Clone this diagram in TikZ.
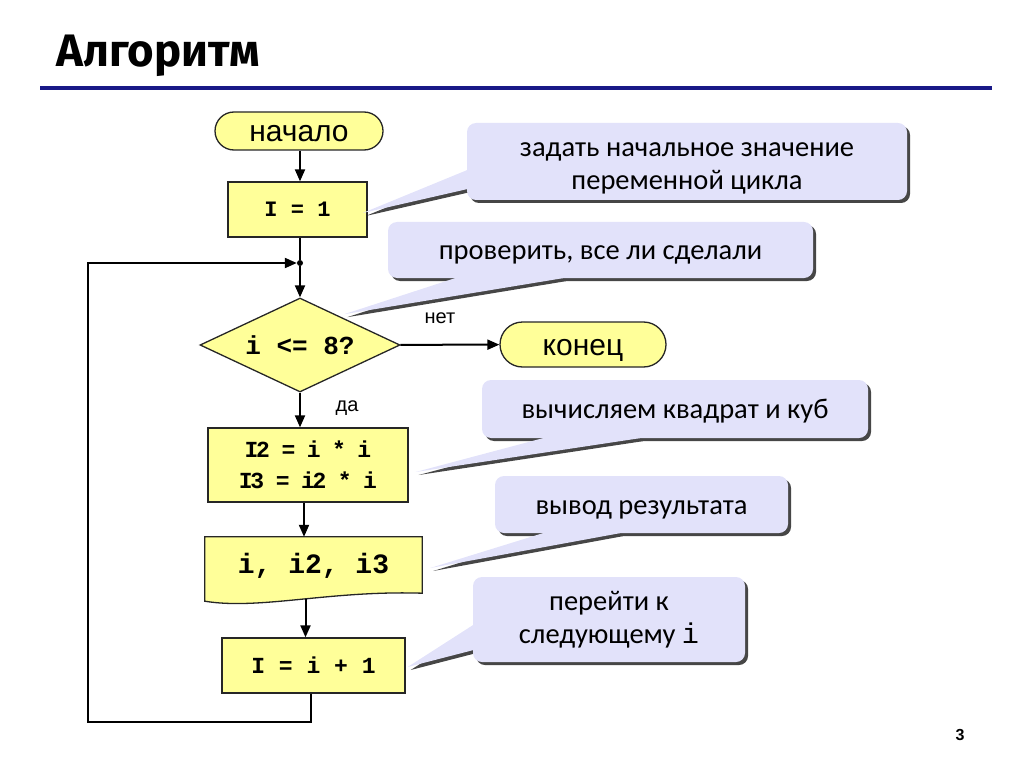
\documentclass[tikz,border=0pt]{standalone}
\usepackage{fontspec}
\setmainfont{Liberation Sans}
\newfontfamily\notefont{Carlito}
\newfontfamily\codefont{Liberation Mono}
\newfontfamily\tightcode[LetterSpace=-10]{Liberation Mono}
\newfontfamily\titlefont{Fira Sans}
\usetikzlibrary{shapes.geometric,shapes.misc,arrows.meta,calc,shadows,backgrounds}

\definecolor{blockfill}{RGB}{255,255,153}
\definecolor{notefill}{RGB}{226,226,250}
\definecolor{rulecol}{RGB}{25,25,135}
\definecolor{shadowcol}{RGB}{70,70,70}

\tikzset{
    block/.style={draw=black!85, line width=1.3pt, fill=blockfill, inner sep=0pt},
    term/.style={block, rounded rectangle, text height=21pt, text depth=0pt, font=\fontsize{30}{36}\selectfont},
    note/.style={fill=notefill, rounded corners=9pt, inner sep=0pt, align=center,
        text height=19.5pt, text depth=0pt,
        font=\notefont\fontsize{28.5}{33}\selectfont,
        drop shadow={shadow xshift=3pt, shadow yshift=-3pt, fill=shadowcol, opacity=1}},
    flow/.style={line width=2pt},
    arr/.style={flow, -{Triangle[length=12pt,width=10pt]}},
}

\begin{document}
\begin{tikzpicture}[x=1pt, y=1pt]
    \useasboundingbox (0,0) rectangle (1024,-767);
    \node[anchor=base west, font=\titlefont\bfseries\fontsize{45.5}{50}\selectfont] (title) at (53,-67) {Алгоритм};
    \draw[rulecol, line width=4pt] (40,-88) -- (992,-88);

    \node[term, minimum width=168pt, minimum height=38pt] (start) at (299,-131) {начало};
    \node[block, minimum width=139pt, minimum height=55pt, font=\codefont\bfseries\fontsize{22}{26}\selectfont] (init) at (297.5,-209.5) {I = 1};
    \node[circle, fill, inner sep=0pt, minimum size=6pt] (join) at (300,-263) {};
    \node[block, diamond, aspect=2.1, minimum width=200pt, minimum height=94pt, font=\codefont\bfseries\fontsize{26}{30}\selectfont] (test) at (300,-345) {i <= 8?};
    \node[term, minimum width=166pt, minimum height=45pt] (stop) at (583,-344.5) {конец};
    \node[font=\fontsize{20}{24}\selectfont] (no) at (440,-318) {нет};
    \node[font=\fontsize{20}{24}\selectfont] (yes) at (347,-408) {да};
    \node[block, minimum width=200pt, minimum height=74pt, align=center, font=\tightcode\bfseries\fontsize{23}{31}\selectfont] (square) at (308,-465) {I2 = i * i\\I3 = i2 * i};
    \node[inner sep=0pt, minimum width=217pt, minimum height=58pt, font=\codefont\bfseries\fontsize{28}{32}\selectfont] (print) at (313.5,-566) {i, i2, i3};
    \node[block, minimum width=183pt, minimum height=55pt, font=\codefont\bfseries\fontsize{23}{27}\selectfont] (next) at (313.5,-665.5) {I = i + 1};
    \coordinate (corner) at (88,-722);

    \node[note, minimum width=440pt, minimum height=77pt, text height=57pt] (note1) at (687,-161.5) {задать начальное значение\\переменной цикла};
    \node[note, minimum width=425pt, minimum height=56pt] (note2) at (600.5,-250) {проверить, все ли сделали};
    \node[note, minimum width=386pt, minimum height=58pt] (note3) at (675,-409) {вычисляем квадрат и куб};
    \node[note, minimum width=293pt, minimum height=57pt] (note4) at (641.5,-504.5) {вывод результата};
    \node[note, minimum width=272pt, minimum height=85pt, text height=48pt] (note5) at (609,-619.5) {перейти к\\следующему {\codefont i}};
    \node[font=\bfseries\fontsize{16}{18}\selectfont] (page) at (960,-735) {3};

    \begin{pgfonlayer}{background}
        \draw[block] (print.north west) -- (print.north east) -- ($(print.south east)+(0,2)$)
            .. controls ($(print.south)+(16,5)$) and ($(print.south)+(-54,-15)$) .. ($(print.south west)+(0,-6)$) -- cycle;
        \fill[shadowcol] ($(note1.south west)+(3,27)$) -- ($(init.east)+(-2,-6.5)$) -- ($(note1.south west)+(3,8)$) -- cycle;
        \fill[shadowcol] ($(note2.south west)+(70,-3)$) -- ($(test.north east)+(-3,4)$) -- ($(note2.south west)+(178,-3)$) -- cycle;
        \fill[shadowcol] ($(note3.south west)+(64,-3)$) -- ($(square.east)+(10,-10)$) -- ($(note3.south west)+(161,-3)$) -- cycle;
        \fill[shadowcol] ($(note4.south west)+(51,-3)$) -- ($(print.east)+(11,-5)$) -- ($(note4.south west)+(128,-3)$) -- cycle;
        \fill[shadowcol] ($(note5.south west)+(3,34)$) -- ($(next.east)+(5,-4.5)$) -- ($(note5.south west)+(3,9)$) -- cycle;
    \end{pgfonlayer}
    \fill[notefill] ($(note1.south west)+(0,30)$) -- ($(init.east)+(-5,-3.5)$) -- ($(note1.south west)+(0,11)$) -- cycle;
    \fill[notefill] ($(note2.south west)+(67,0)$) -- ($(test.north east)+(-6,7)$) -- ($(note2.south west)+(175,0)$) -- cycle;
    \fill[notefill] ($(note3.south west)+(61,0)$) -- ($(square.east)+(7,-7)$) -- ($(note3.south west)+(158,0)$) -- cycle;
    \fill[notefill] ($(note4.south west)+(48,0)$) -- ($(print.east)+(8,-2)$) -- ($(note4.south west)+(125,0)$) -- cycle;
    \fill[notefill] ($(note5.south west)+(0,37)$) -- ($(next.east)+(2,-1.5)$) -- ($(note5.south west)+(0,12)$) -- cycle;

    \draw[arr] (start.south -| join) -- (init.north -| join);
    \draw[flow] (init.south -| join) -- (join);
    \draw[arr] (join) -- (test);
    \draw[arr] (test) -- (stop);
    \draw[arr] (test.south) -- (test.south |- square.north);
    \draw[arr] ([xshift=-4pt]square.south) -- ([xshift=-4pt]square.south |- print.north);
    \draw[arr] ([xshift=-8pt,yshift=-4pt]print.south) -- ([xshift=-8pt]print.south |- next.north);
    \draw[arr] ([xshift=-2.5pt]next.south) |- (corner) |- (join);
\end{tikzpicture}
\end{document}
